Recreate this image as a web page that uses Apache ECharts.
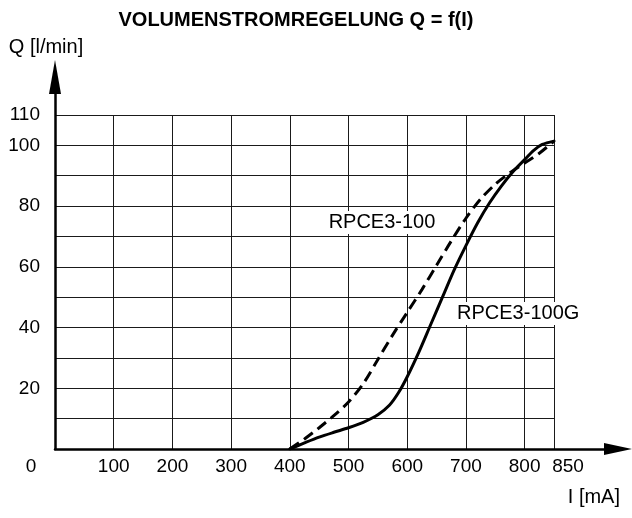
<!DOCTYPE html>
<html>
<head>
<meta charset="utf-8">
<script src="https://cdn.jsdelivr.net/npm/echarts@6/dist/echarts.min.js"></script>
<style>html,body{margin:0;padding:0;background:#fff}#c{width:632px;height:518px}</style>
</head>
<body>
<div id="c"></div>
<script>
// ---- data ----
const titleText = 'VOLUMENSTROMREGELUNG Q = f(I)';
const xName = 'I [mA]';
const yName = 'Q [l/min]';
const seriesNames = ['RPCE3-100G', 'RPCE3-100'];

// RPCE3-100G (solid)
const currentG = [400, 425, 450, 475, 500, 525, 550, 570, 585, 600, 620, 640, 660, 680, 700, 720, 740, 760, 780, 800, 815, 830, 850];
const flowG    = [0,   2,   3.9, 5.5, 7,   8.8, 11.3, 14.5, 18.5, 23.8, 32, 41, 50, 59, 67, 74.5, 81, 86.5, 91.3, 95.3, 98.3, 100.3, 101.4];

// RPCE3-100 (dashed)
const current100 = [400, 425, 450, 475, 500, 525, 550, 575, 600, 625, 650, 675, 700, 725, 750, 775, 800, 825, 850];
const flow100    = [0,   3.3, 7,   11,  15.5, 21.5, 29.5, 37.5, 45, 52.5, 60.5, 68.5, 76, 82.3, 87.2, 91, 94.2, 97.4, 101.4];

// label anchor positions [I, Q]
const labelPosG = [789, 44.6];
const labelPos100 = [557, 74.6];

const xTickMin = 0, xTickMax = 850, xTickStep = 100;
const yTickMin = 0, yTickMax = 110, yTickStep = 10;

// ---- chart ----
const FONT = 'Liberation Sans, Arial, Helvetica, sans-serif';
const zip = (a, b) => a.map((v, i) => [v, b[i]]);

const chart = echarts.init(document.getElementById('c'), null, {renderer: 'canvas'});

const labelStyle = {
  show: true, position: 'inside', color: '#000', fontSize: 20, fontFamily: FONT,
  backgroundColor: '#fff', padding: [2, 3, 1, 3],
  formatter: p => p.name
};

chart.setOption({
  animation: false,
  backgroundColor: '#fff',
  textStyle: {fontFamily: FONT, color: '#000'},
  title: {
    text: titleText, left: 296, top: 10, textAlign: 'center', padding: 0,
    textStyle: {fontSize: 20, fontWeight: 'bold', color: '#000', fontFamily: FONT}
  },
  grid: [
    {left: 55, top: 115, width: 499, height: 334},
    {left: 55, top: 77, width: 563, height: 372}
  ],
  xAxis: [
    {
      type: 'value', gridIndex: 0, min: xTickMin, max: xTickMax, interval: xTickStep,
      axisLine: {show: false}, axisTick: {show: false},
      splitLine: {show: true, lineStyle: {color: '#1a1a1a', width: 1}},
      axisLabel: {
        margin: 8, color: '#000', fontSize: 19, fontFamily: FONT,
        formatter: v => v === 0 ? '{z|0}' : (v === 850 ? '{e|850}' : String(v)),
        rich: {
          z: {padding: [0, 48, 0, 0], fontSize: 19, color: '#000', fontFamily: FONT},
          e: {padding: [0, 0, 0, 28], fontSize: 19, color: '#000', fontFamily: FONT}
        }
      }
    },
    {
      type: 'value', gridIndex: 1, min: 0, max: 1,
      axisLine: {show: true, onZero: false, symbol: ['none', 'triangle'], symbolSize: [12, 28],
        lineStyle: {color: '#000', width: 2.5}},
      axisTick: {show: false}, axisLabel: {show: false}, splitLine: {show: false},
      name: xName, nameLocation: 'end', nameGap: 2,
      nameTextStyle: {align: 'right', verticalAlign: 'top', padding: [38, 0, 0, 0], fontSize: 20, color: '#000', fontFamily: FONT}
    }
  ],
  yAxis: [
    {
      type: 'value', gridIndex: 0, min: yTickMin, max: yTickMax, interval: yTickStep,
      axisLine: {show: false}, axisTick: {show: false},
      splitLine: {show: true, lineStyle: {color: '#1a1a1a', width: 1}},
      axisLabel: {
        margin: 15, color: '#000', fontSize: 19, fontFamily: FONT,
        formatter: v => ((v > 0 && v % 20 === 0) || v === 110) ? String(v) : ''
      }
    },
    {
      type: 'value', gridIndex: 1, min: 0, max: 1,
      axisLine: {show: true, onZero: false, symbol: ['none', 'triangle'], symbolSize: [12, 34],
        lineStyle: {color: '#000', width: 2.5}},
      axisTick: {show: false}, axisLabel: {show: false}, splitLine: {show: false},
      name: yName, nameLocation: 'end', nameGap: 20,
      nameTextStyle: {align: 'center', verticalAlign: 'bottom', padding: [0, 18, 0, 0], fontSize: 20, color: '#000', fontFamily: FONT}
    }
  ],
  series: [
    {
      name: seriesNames[0], type: 'line', xAxisIndex: 0, yAxisIndex: 0,
      data: zip(currentG, flowG), smooth: 0.3, symbol: 'none',
      lineStyle: {color: '#000', width: 3, type: 'solid', cap: 'round', join: 'round'},
      markPoint: {
        symbol: 'rect', symbolSize: 1, itemStyle: {color: 'rgba(0,0,0,0)'}, silent: true,
        label: labelStyle,
        data: [{name: seriesNames[0], coord: labelPosG}]
      },
      z: 3
    },
    {
      name: seriesNames[1], type: 'line', xAxisIndex: 0, yAxisIndex: 0,
      data: zip(current100, flow100), smooth: 0.3, symbol: 'none',
      lineStyle: {color: '#000', width: 3, type: [11, 6]},
      markPoint: {
        symbol: 'rect', symbolSize: 1, itemStyle: {color: 'rgba(0,0,0,0)'}, silent: true,
        label: labelStyle,
        data: [{name: seriesNames[1], coord: labelPos100}]
      },
      z: 3
    }
  ]
});
</script>
</body>
</html>
